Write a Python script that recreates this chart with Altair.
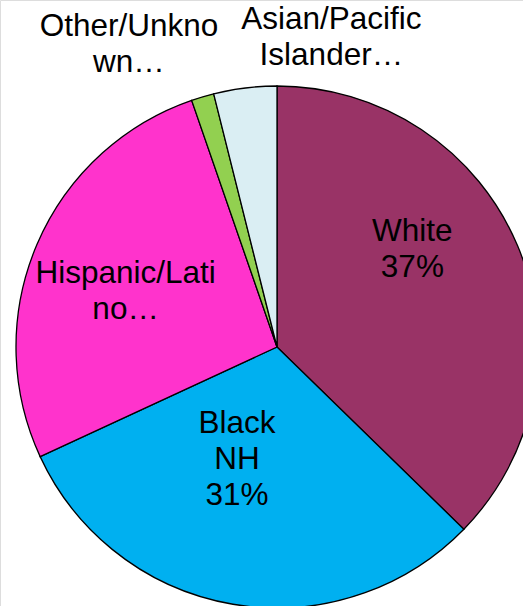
import altair as alt
import pandas as pd

categories = ["White", "Black NH", "Hispanic/Latino", "Other/Unknown", "Asian/Pacific Islander"]
values = [37.3, 30.8, 26.6, 1.4, 3.9]
labels = ["White\n37%", "Black\nNH\n31%", "Hispanic/Lati\nno…", "Other/Unkno\nwn…", "Asian/Pacific\nIslander…"]
colors = ["#993366", "#00B0F0", "#FF33CC", "#92D050", "#DAEEF3"]

df = pd.DataFrame({"cat": categories, "val": values, "label": labels, "idx": list(range(len(categories)))})

CX, CY, R = 277, 347, 261
total = sum(values)
tscale = alt.Scale(domain=[0, total], range=[0, 6.283185307179586])

base = alt.Chart(df).transform_window(
    cum="sum(val)", sort=[alt.SortField("idx")], frame=[None, 0]
).transform_calculate(
    start="datum.cum - datum.val", mid="datum.cum - datum.val / 2"
)

pie = base.mark_arc(stroke="black", strokeWidth=1.3, radius=R).encode(
    theta=alt.Theta("start:Q", scale=tscale, stack=None),
    theta2="cum:Q",
    color=alt.Color("cat:N", scale=alt.Scale(domain=categories, range=colors), legend=None),
    x=alt.value(CX),
    y=alt.value(CY),
)

label_specs = {
    "White": (161, -13, -52),
    "Black NH": (119, -20, -40),
    "Hispanic/Latino": (171, 6, -6),
    "Other/Unknown": (337, -52, 3),
    "Asian/Pacific Islander": (316, 93, -13),
}

layers = [pie]
for cat, (rad, dx, dy) in label_specs.items():
    layers.append(
        base.mark_text(
            radius=rad, dx=dx, dy=dy, lineBreak="\n", fontSize=31.5,
            font="Liberation Sans", color="black", lineHeight=36,
            align="center", baseline="middle",
        ).encode(
            theta=alt.Theta("mid:Q", scale=tscale, stack=None),
            text="label:N", x=alt.value(CX), y=alt.value(CY),
        ).transform_filter(alt.datum.cat == cat)
    )

chart = alt.layer(*layers).properties(
    width=523, height=606, autosize=alt.AutoSizeParams(type="none"), padding=0
).configure_view(stroke=None).configure(background="white")

chart.save("out.html", embed_options={"renderer": "svg", "actions": False})
